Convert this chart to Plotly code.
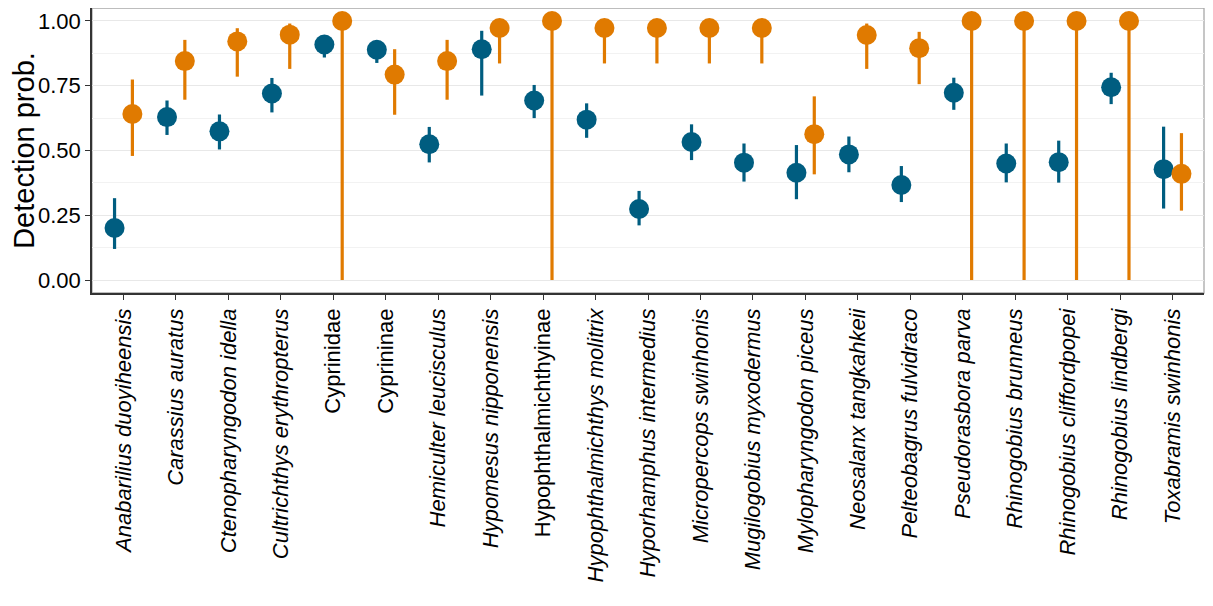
import plotly.graph_objects as go

species = [
    "Anabarilius duoyiheensis", "Carassius auratus", "Ctenopharyngodon idella",
    "Cultrichthys erythropterus", "Cyprinidae", "Cyprininae", "Hemiculter leucisculus",
    "Hypomesus nipponensis", "Hypophthalmichthyinae", "Hypophthalmichthys molitrix",
    "Hyporhamphus intermedius", "Micropercops swinhonis", "Mugilogobius myxodermus",
    "Mylopharyngodon piceus", "Neosalanx tangkahkeii", "Pelteobagrus fulvidraco",
    "Pseudorasbora parva", "Rhinogobius brunneus", "Rhinogobius cliffordpopei",
    "Rhinogobius lindbergi", "Toxabramis swinhonis",
]
non_italic = {"Cyprinidae", "Cyprininae", "Hypophthalmichthyinae"}

blue_mean = [0.201, 0.629, 0.574, 0.720, 0.909, 0.889, 0.524, 0.891, 0.693, 0.619,
             0.274, 0.533, 0.453, 0.414, 0.485, 0.367, 0.723, 0.450, 0.455, 0.744, 0.428]
blue_hi = [0.316, 0.693, 0.639, 0.780, 0.945, 0.925, 0.591, 0.962, 0.753, 0.682,
           0.344, 0.601, 0.527, 0.521, 0.554, 0.440, 0.781, 0.527, 0.538, 0.800, 0.592]
blue_lo = [0.120, 0.560, 0.504, 0.647, 0.859, 0.838, 0.454, 0.712, 0.625, 0.549,
           0.211, 0.463, 0.380, 0.312, 0.416, 0.301, 0.657, 0.377, 0.376, 0.679, 0.276]

orange_mean = [0.641, 0.845, 0.921, 0.947, 1.000, 0.793, 0.845, 0.973, 1.000, 0.973,
               0.973, 0.973, 0.973, 0.563, 0.946, 0.895, 1.000, 1.000, 1.000, 1.000, 0.410]
orange_hi = [0.774, 0.927, 0.972, 0.990, 1.000, 0.891, 0.927, 0.995, 1.000, 0.995,
             0.995, 0.995, 0.995, 0.709, 0.990, 0.958, 1.000, 1.000, 1.000, 1.000, 0.567]
orange_lo = [0.479, 0.696, 0.785, 0.815, 0.000, 0.638, 0.696, 0.836, 0.000, 0.836,
             0.836, 0.836, 0.836, 0.408, 0.815, 0.756, 0.000, 0.000, 0.000, 0.000, 0.268]

y_ticks = [0.0, 0.25, 0.5, 0.75, 1.0]
y_ticklabels = ["0.00", "0.25", "0.50", "0.75", "1.00"]

BLUE = "#005D80"
ORANGE = "#E07A00"
dodge = 0.17

idx = list(range(len(species)))
ticktext = [s if s in non_italic else f"<i>{s}</i>" for s in species]

fig = go.Figure()
for mean, hi, lo, color, off in [
    (blue_mean, blue_hi, blue_lo, BLUE, -dodge),
    (orange_mean, orange_hi, orange_lo, ORANGE, dodge),
]:
    fig.add_trace(go.Scatter(
        x=[i + off for i in idx], y=mean, mode="markers",
        marker=dict(color=color, size=20, line=dict(width=0)),
        error_y=dict(type="data", symmetric=False,
                     array=[h - m for h, m in zip(hi, mean)],
                     arrayminus=[m - l for m, l in zip(mean, lo)],
                     color=color, thickness=3.2, width=0),
        showlegend=False, hoverinfo="skip",
    ))

fig.add_shape(type="rect", xref="paper", yref="paper", x0=0, x1=1, y0=0, y1=1,
              line=dict(color="#a8a8a8", width=1.3), layer="below")

fig.update_layout(
    width=1197, height=590,
    margin=dict(l=84, r=1, t=0, b=305),
    paper_bgcolor="white", plot_bgcolor="white",
    font=dict(family="Liberation Sans, Arial, sans-serif", color="#000000"),
    xaxis=dict(
        range=[-0.6, 20.6], tickmode="array", tickvals=idx, ticktext=ticktext,
        tickangle=-90, tickfont=dict(size=22, color="#000000"),
        showgrid=False, zeroline=False,
        showline=True, linecolor="#333333", linewidth=1.5,
        ticks="outside", ticklen=5, tickwidth=1.3, tickcolor="#333333",
    ),
    yaxis=dict(
        range=[-0.05, 1.05], tickmode="array", tickvals=y_ticks, ticktext=y_ticklabels,
        tickfont=dict(size=22, color="#000000"),
        title=dict(text="Detection prob.", font=dict(size=29, color="#000000"), standoff=10),
        showgrid=True, gridcolor="#e8e8e8", gridwidth=1.3, zeroline=False,
        showline=True, linecolor="#333333", linewidth=1.5,
        ticks="outside", ticklen=5, tickwidth=1.3, tickcolor="#333333",
        minor=dict(tickvals=[0.125, 0.375, 0.625, 0.875], showgrid=True,
                   gridcolor="#f2f2f2", gridwidth=1, ticks=""),
    ),
)

fig.write_html("out.html")
